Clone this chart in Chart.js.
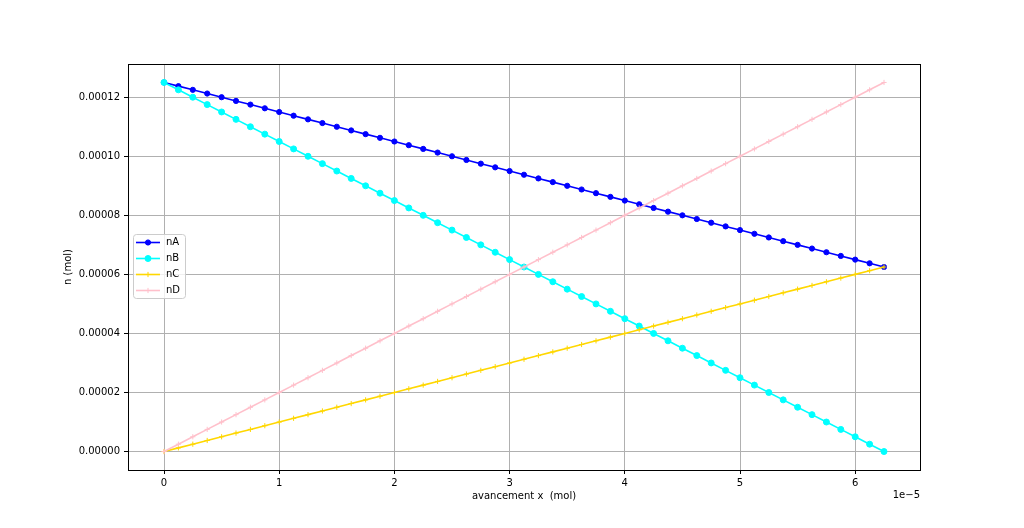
<!DOCTYPE html>
<html><head><meta charset="utf-8">
<script src="https://cdn.jsdelivr.net/npm/chart.js@4"></script>
<style>html,body{margin:0;padding:0;background:#fff;}canvas{display:block;}</style>
</head><body>
<canvas id="c" width="1024" height="528"></canvas>
<script>
// values in µmol (1e-6 mol)
const xValues = [0, 1.25, 2.5, 3.75, 5, 6.25, 7.5, 8.75, 10, 11.25, 12.5, 13.75, 15, 16.25, 17.5, 18.75, 20, 21.25, 22.5, 23.75, 25, 26.25, 27.5, 28.75, 30, 31.25, 32.5, 33.75, 35, 36.25, 37.5, 38.75, 40, 41.25, 42.5, 43.75, 45, 46.25, 47.5, 48.75, 50, 51.25, 52.5, 53.75, 55, 56.25, 57.5, 58.75, 60, 61.25, 62.5];
const nA = [125, 123.75, 122.5, 121.25, 120, 118.75, 117.5, 116.25, 115, 113.75, 112.5, 111.25, 110, 108.75, 107.5, 106.25, 105, 103.75, 102.5, 101.25, 100, 98.75, 97.5, 96.25, 95, 93.75, 92.5, 91.25, 90, 88.75, 87.5, 86.25, 85, 83.75, 82.5, 81.25, 80, 78.75, 77.5, 76.25, 75, 73.75, 72.5, 71.25, 70, 68.75, 67.5, 66.25, 65, 63.75, 62.5];
const nB = [125, 122.5, 120, 117.5, 115, 112.5, 110, 107.5, 105, 102.5, 100, 97.5, 95, 92.5, 90, 87.5, 85, 82.5, 80, 77.5, 75, 72.5, 70, 67.5, 65, 62.5, 60, 57.5, 55, 52.5, 50, 47.5, 45, 42.5, 40, 37.5, 35, 32.5, 30, 27.5, 25, 22.5, 20, 17.5, 15, 12.5, 10, 7.5, 5, 2.5, 0];
const nC = [0, 1.25, 2.5, 3.75, 5, 6.25, 7.5, 8.75, 10, 11.25, 12.5, 13.75, 15, 16.25, 17.5, 18.75, 20, 21.25, 22.5, 23.75, 25, 26.25, 27.5, 28.75, 30, 31.25, 32.5, 33.75, 35, 36.25, 37.5, 38.75, 40, 41.25, 42.5, 43.75, 45, 46.25, 47.5, 48.75, 50, 51.25, 52.5, 53.75, 55, 56.25, 57.5, 58.75, 60, 61.25, 62.5];
const nD = [0, 2.5, 5, 7.5, 10, 12.5, 15, 17.5, 20, 22.5, 25, 27.5, 30, 32.5, 35, 37.5, 40, 42.5, 45, 47.5, 50, 52.5, 55, 57.5, 60, 62.5, 65, 67.5, 70, 72.5, 75, 77.5, 80, 82.5, 85, 87.5, 90, 92.5, 95, 97.5, 100, 102.5, 105, 107.5, 110, 112.5, 115, 117.5, 120, 122.5, 125];
const seriesNames = ['nA', 'nB', 'nC', 'nD'];
const xTicks = [0, 10, 20, 30, 40, 50, 60];
const xTickLabels = ['0', '1', '2', '3', '4', '5', '6'];
const yTicks = [0, 20, 40, 60, 80, 100, 120];
const yTickLabels = ['0.00000', '0.00002', '0.00004', '0.00006', '0.00008', '0.00010', '0.00012'];
const xTitle = 'avancement x  (mol)';
const yTitle = 'n (mol)';
const offsetText = '1e\u22125';

const FONT = '10px "DejaVu Sans"';
const pts = arr => arr.map((v, i) => ({x: xValues[i], y: v}));

const styles = [
  {color: '#0000ff', pointStyle: 'circle', radius: 2.6, order: 4},
  {color: '#00ffff', pointStyle: 'circle', radius: 3.0, order: 3},
  {color: '#ffd700', pointStyle: 'cross', radius: 2.6, order: 2},
  {color: '#ffc0cb', pointStyle: 'cross', radius: 2.6, order: 1}
];
const series = [nA, nB, nC, nD];

const datasets = series.map((s, i) => ({
  label: seriesNames[i],
  data: pts(s),
  borderColor: styles[i].color,
  backgroundColor: styles[i].color,
  borderWidth: 1.6,
  pointStyle: styles[i].pointStyle,
  pointRadius: styles[i].radius,
  pointBorderWidth: 1,
  pointBorderColor: styles[i].color,
  pointBackgroundColor: styles[i].color,
  order: styles[i].order,
  tension: 0
}));

const deco = {
  id: 'deco',
  afterDraw(chart) {
    const ctx = chart.ctx, a = chart.chartArea;
    ctx.save();
    ctx.strokeStyle = '#000'; ctx.lineWidth = 1;
    ctx.strokeRect(a.left + 0.5, a.top + 0.5, a.right - a.left, a.bottom - a.top);
    ctx.fillStyle = '#000'; ctx.font = FONT;
    ctx.textAlign = 'center'; ctx.textBaseline = 'middle';
    ctx.fillText(xTitle, (a.left + a.right) / 2, 496);
    ctx.save(); ctx.translate(68, (a.top + a.bottom) / 2); ctx.rotate(-Math.PI / 2);
    ctx.fillText(yTitle, 0, 0); ctx.restore();
    ctx.textAlign = 'right';
    ctx.fillText(offsetText, a.right, 495);
    // legend
    const bx = 133.5, by = 234.5, bw = 52, bh = 64, r = 3;
    ctx.beginPath();
    ctx.moveTo(bx + r, by); ctx.lineTo(bx + bw - r, by); ctx.arcTo(bx + bw, by, bx + bw, by + r, r);
    ctx.lineTo(bx + bw, by + bh - r); ctx.arcTo(bx + bw, by + bh, bx + bw - r, by + bh, r);
    ctx.lineTo(bx + r, by + bh); ctx.arcTo(bx, by + bh, bx, by + bh - r, r);
    ctx.lineTo(bx, by + r); ctx.arcTo(bx, by, bx + r, by, r); ctx.closePath();
    ctx.fillStyle = 'rgba(255,255,255,0.8)'; ctx.fill();
    ctx.strokeStyle = '#cccccc'; ctx.lineWidth = 1; ctx.stroke();
    chart.data.datasets.forEach((ds, i) => {
      const y = 242.5 + 16 * i;
      ctx.strokeStyle = ds.borderColor; ctx.lineWidth = ds.borderWidth;
      ctx.beginPath(); ctx.moveTo(136, y); ctx.lineTo(160, y); ctx.stroke();
      ctx.lineWidth = 1;
      ctx.fillStyle = ds.pointBackgroundColor; ctx.strokeStyle = ds.pointBorderColor;
      ctx.beginPath();
      if (ds.pointStyle === 'circle') { ctx.arc(148, y, ds.pointRadius, 0, Math.PI * 2); ctx.fill(); ctx.stroke(); }
      else { ctx.moveTo(148 - ds.pointRadius, y); ctx.lineTo(148 + ds.pointRadius, y); ctx.moveTo(148, y - ds.pointRadius); ctx.lineTo(148, y + ds.pointRadius); ctx.stroke(); }
      ctx.fillStyle = '#000'; ctx.textAlign = 'left'; ctx.textBaseline = 'middle'; ctx.font = FONT;
      ctx.fillText(ds.label, 166, y);
    });
    ctx.restore();
  }
};

new Chart(document.getElementById('c'), {
  type: 'line',
  data: {datasets},
  options: {
    responsive: false, animation: false, devicePixelRatio: 1,
    layout: {padding: {left: 0, right: 104, top: 64, bottom: 0}},
    plugins: {legend: {display: false}, tooltip: {enabled: false}},
    scales: {
      x: {
        type: 'linear', min: -3.125, max: 65.625,
        afterBuildTicks: ax => { ax.ticks = xTicks.map(v => ({value: v})); },
        afterFit: ax => { ax.height = 58; },
        grid: {color: '#b0b0b0', lineWidth: 1, tickColor: '#000', tickLength: 4},
        border: {display: false},
        ticks: {font: {family: 'DejaVu Sans', size: 10}, color: '#000', padding: 3, maxRotation: 0,
          callback: v => xTickLabels[xTicks.indexOf(v)]}
      },
      y: {
        type: 'linear', min: -6.25, max: 131.25,
        afterBuildTicks: ax => { ax.ticks = yTicks.map(v => ({value: v})); },
        afterFit: ax => { ax.width = 128; },
        grid: {color: '#b0b0b0', lineWidth: 1, tickColor: '#000', tickLength: 4},
        border: {display: false},
        ticks: {font: {family: 'DejaVu Sans', size: 10}, color: '#000', padding: 4,
          callback: v => yTickLabels[yTicks.indexOf(v)]}
      }
    }
  },
  plugins: [deco]
});
</script>
</body></html>
